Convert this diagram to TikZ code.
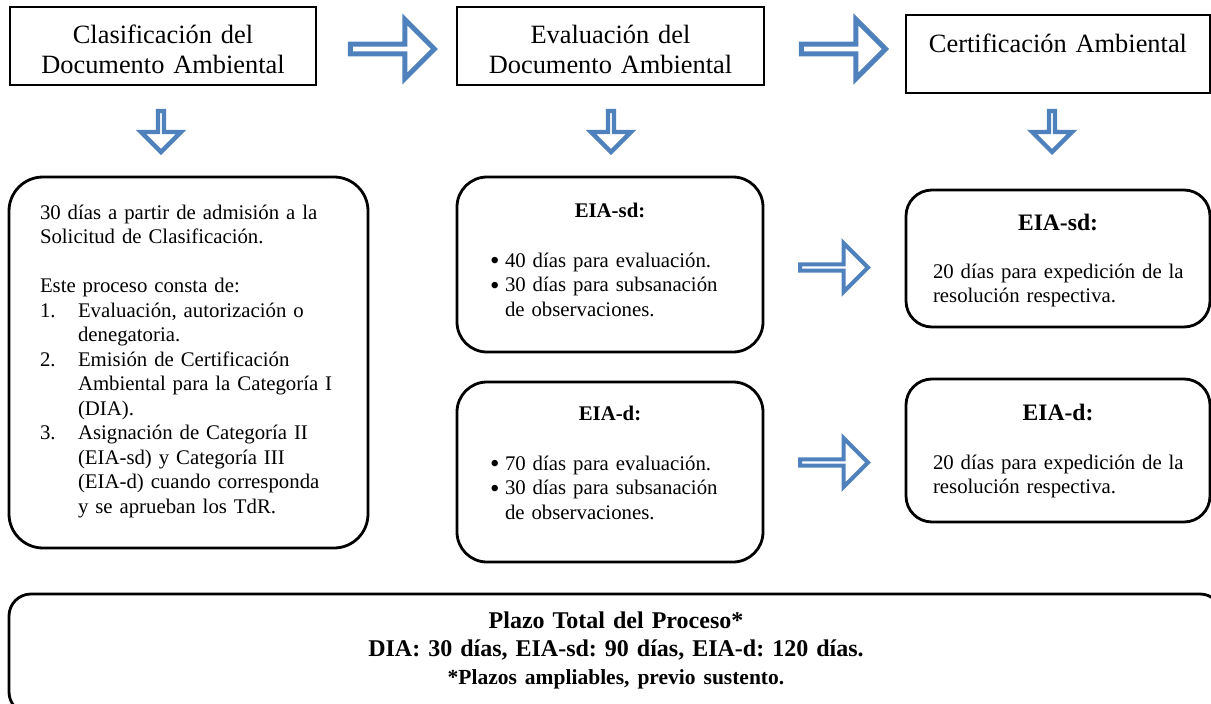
\documentclass[tikz,border=0pt]{standalone}
\usepackage{fontspec}
\setmainfont{Liberation Serif}
\usepackage{enumitem}
\usetikzlibrary{shapes.arrows}
\definecolor{flowblue}{RGB}{79,129,189}
\newcommand{\flowbig}{\fontsize{26.4}{30}\selectfont}
\newcommand{\flowbody}{\fontsize{20.8}{24.5}\selectfont}
\newcommand{\flowhead}{\fontsize{23.6}{27}\selectfont}
\newcommand{\flowdot}{\raisebox{-2.5pt}{\fontsize{27}{20}\selectfont\textbullet}}
\frenchspacing
\tikzset{
    headbox/.style={draw, line width=2.5pt, minimum width=306pt, minimum height=78pt, inner sep=0pt},
    roundbox/.style={draw, line width=2.8pt, inner sep=0pt},
    boxtext/.style={text width=#1, inner sep=0pt, anchor=base, font=\flowbody},
    rightarrow/.style={single arrow, draw=flowblue, fill=white, line width=5pt, inner sep=0pt,
        single arrow head extend=12.5pt, minimum height=84pt, minimum width=59pt},
    downarrow/.style={single arrow, shape border rotate=270, draw=flowblue, fill=white, line width=4.3pt, inner sep=0pt,
        single arrow head extend=12.5pt, minimum height=41pt, minimum width=40pt},
    smallarrow/.style={single arrow, draw=flowblue, fill=white, line width=4pt, inner sep=0pt,
        single arrow head extend=14pt, minimum height=68pt, minimum width=49pt}
}
\begin{document}
\begin{tikzpicture}[x=1pt, y=-1pt]
    \useasboundingbox (0,0) rectangle (1211,704);
    \node[headbox] (clasif) at (163,46) {};
    \node[headbox, minimum width=307pt] (eval) at (610.5,46) {};
    \node[headbox, minimum width=304pt] (cert) at (1058,54) {};
    \node[boxtext=300pt, align=center, font=\flowbig] (clasiftext) at (163,43) {Clasificación del\\Documento Ambiental};
    \node[boxtext=300pt, align=center, font=\flowbig] (evaltext) at (610.5,43) {Evaluación del\\Documento Ambiental};
    \node[boxtext=300pt, align=center, font=\flowbig] (certtext) at (1058,52) {Certificación Ambiental};
    \node[rightarrow] (toeval) at (390,49) {};
    \node[rightarrow] (tocert) at (841,49) {};
    \node[downarrow] (downclasif) at (161,130) {};
    \node[downarrow] (downeval) at (611,130) {};
    \node[downarrow] (downcert) at (1052,130) {};
    \node[roundbox, rounded corners=34pt, minimum width=359pt, minimum height=371pt] (clasifplazo) at (188.5,362.5) {};
    \node[boxtext=300pt, align=left] (clasifplazotext) at (190,219) {30 días a partir de admisión a la\\Solicitud de Clasificación.\par\vspace{24.5pt}Este proceso consta de:
        \begin{enumerate}[label=\arabic*., leftmargin=38pt, labelwidth=38pt, labelsep=0pt, align=left, itemsep=0pt, topsep=0pt, parsep=0pt, partopsep=0pt]
        \item Evaluación, autorización o\\denegatoria.
        \item Emisión de Certificación\\Ambiental para la Categoría I\\(DIA).
        \item Asignación de Categoría II\\(EIA-sd) y Categoría III\\(EIA-d) cuando corresponda\\y se aprueban los TdR.
        \end{enumerate}};
    \node[roundbox, rounded corners=30pt, minimum width=306pt, minimum height=175pt] (evalsd) at (610,264.5) {};
    \node[boxtext=240pt, align=left] (evalsdtext) at (610,217) {{\centering\textbf{EIA-sd:}\par}\vspace{25.5pt}
        \begin{itemize}[label=\flowdot, leftmargin=15pt, labelwidth=15pt, labelsep=0pt, align=left, itemsep=0pt, topsep=0pt, parsep=0pt, partopsep=0pt]
        \item 40 días para evaluación.
        \item 30 días para subsanación\\de observaciones.
        \end{itemize}};
    \node[roundbox, rounded corners=30pt, minimum width=306pt, minimum height=180pt] (evald) at (610,472) {};
    \node[boxtext=240pt, align=left] (evaldtext) at (610,420) {{\centering\textbf{EIA-d:}\par}\vspace{25.5pt}
        \begin{itemize}[label=\flowdot, leftmargin=15pt, labelwidth=15pt, labelsep=0pt, align=left, itemsep=0pt, topsep=0pt, parsep=0pt, partopsep=0pt]
        \item 70 días para evaluación.
        \item 30 días para subsanación\\de observaciones.
        \end{itemize}};
    \node[smallarrow] (tocertsd) at (832.5,267.5) {};
    \node[smallarrow] (tocertd) at (832.5,462.5) {};
    \node[roundbox, rounded corners=26pt, minimum width=304pt, minimum height=137pt] (certsd) at (1058,258.5) {};
    \node[boxtext=250pt, align=left] (certsdtext) at (1058,230) {{\centering\flowhead\textbf{EIA-sd:}\par}\vspace{23.5pt}\mbox{20 días para expedición de la}\\resolución respectiva.};
    \node[roundbox, rounded corners=26pt, minimum width=304pt, minimum height=143pt] (certd) at (1058,450.5) {};
    \node[boxtext=250pt, align=left] (certdtext) at (1058,420) {{\centering\flowhead\textbf{EIA-d:}\par}\vspace{24.5pt}\mbox{20 días para expedición de la}\\resolución respectiva.};
    \node[roundbox, rounded corners=22pt, minimum width=1213pt, minimum height=120pt] (total) at (615.5,654) {};
    \node[boxtext=900pt, align=center, font=\bfseries\fontsize{24}{28}\selectfont] (totaltext) at (616,628) {Plazo Total del Proceso*\\DIA: 30 días, EIA-sd: 90 días, EIA-d: 120 días.\\{\fontsize{21.5}{26}\selectfont *Plazos ampliables, previo sustento.}};
\end{tikzpicture}
\end{document}
